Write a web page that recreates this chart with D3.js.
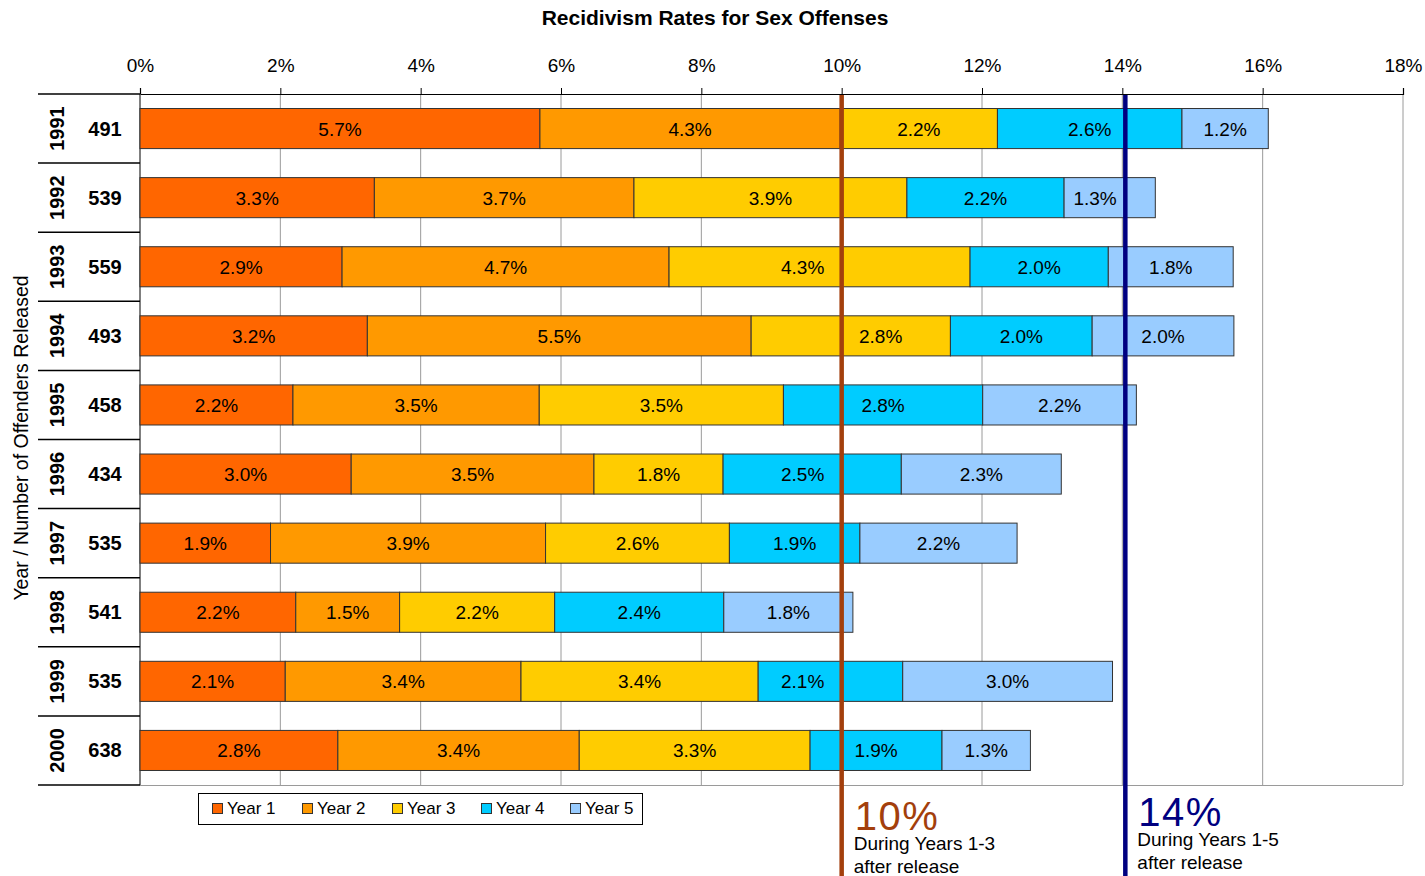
<!DOCTYPE html>
<html><head><meta charset="utf-8">
<script src="https://cdn.jsdelivr.net/npm/d3@7/dist/d3.min.js"></script>
<style>body{margin:0;background:#fff;font-family:"Liberation Sans",Arial,sans-serif;}</style>
</head><body><svg id="c" width="1425" height="876"></svg>
<script>
const years = ["1991","1992","1993","1994","1995","1996","1997","1998","1999","2000"];
const released = [491,539,559,493,458,434,535,541,535,638];
const seriesNames = ["Year 1","Year 2","Year 3","Year 4","Year 5"];
const year1 = [5.70,3.34,2.88,3.24,2.18,3.01,1.86,2.22,2.07,2.82];
const year2 = [4.28,3.70,4.66,5.47,3.51,3.46,3.92,1.48,3.36,3.44];
const year3 = [2.24,3.89,4.29,2.84,3.48,1.84,2.62,2.21,3.38,3.29];
const year4 = [2.63,2.24,1.97,2.02,2.84,2.54,1.86,2.41,2.06,1.88];
const year5 = [1.23,1.30,1.78,2.02,2.19,2.28,2.24,1.84,2.99,1.26];
const xTicks = [0,2,4,6,8,10,12,14,16,18];
const colors = ["#FF6600","#FF9900","#FFCC00","#00CCFF","#99CCFF"];
const refLines = [
  {value:10, color:"#A33F0C", big:"10%", lines:["During Years 1-3","after release"]},
  {value:14, color:"#000080", big:"14%", lines:["During Years 1-5","after release"]}
];

const FONT = "Liberation Sans, Arial, sans-serif";
const svg = d3.select("#c");
const L = 140, R = 1403, T = 94, B = 785;
const x = d3.scaleLinear().domain([0,18]).range([L,R]);
const y = d3.scaleBand().domain(years).range([T,B]).paddingInner(0.42).paddingOuter(0.21);
const yRow = d3.scaleBand().domain(years).range([T,B]);
const series = [year1,year2,year3,year4,year5];

const rows = years.map((yr,i)=>{const o={year:yr}; seriesNames.forEach((n,k)=>o[n]=series[k][i]); return o;});
const stack = d3.stack().keys(seriesNames)(rows);
const refX = refLines.map((r,i)=>x(r.value) + (i===1?3:0));

// title
svg.append("text").attr("x",715).attr("y",25).attr("text-anchor","middle")
  .attr("font-size",21).attr("font-weight","bold").text("Recidivism Rates for Sex Offenses");

// gridlines
svg.append("g").selectAll("line").data(xTicks.slice(1)).join("line")
  .attr("x1",d=>x(d)).attr("x2",d=>x(d)).attr("y1",T).attr("y2",B)
  .attr("stroke","#9a9a9a").attr("stroke-width",1);
svg.append("line").attr("x1",L).attr("x2",R).attr("y1",B+0.5).attr("y2",B+0.5).attr("stroke","#9a9a9a");

// top axis
const ax = svg.append("g").attr("transform",`translate(0,${T})`)
  .call(d3.axisTop(x).tickValues(xTicks).tickFormat(d=>d+"%").tickSize(6).tickPadding(16));
ax.select(".domain").attr("stroke","#000").attr("stroke-width",1.2);
ax.selectAll(".tick line").attr("stroke","#000");
ax.selectAll("text").attr("font-size",19).attr("font-family",FONT).attr("fill","#000");

svg.append("line").attr("x1",L).attr("x2",L).attr("y1",T).attr("y2",B).attr("stroke","#555").attr("stroke-width",1.5);

// bars
const g = svg.append("g");
const HALF_W = 21, GAP = 18, TRIGGER = 12, EDGE = 10;
function labelX(a,b){
  let c = (x(a)+x(b))/2;
  refX.forEach(rx=>{
    if (c - HALF_W - TRIGGER < rx && c + HALF_W + TRIGGER > rx) {
      if (c < rx) c = Math.max(rx - GAP - HALF_W, x(a) + HALF_W + EDGE);
      else c = Math.min(rx + GAP + HALF_W, x(b) - HALF_W - EDGE);
    }
  });
  return c;
}
stack.forEach((s,si)=>{
  const grp = g.append("g");
  grp.selectAll("rect").data(s).join("rect")
    .attr("x",d=>x(d[0])).attr("width",d=>x(d[1])-x(d[0]))
    .attr("y",d=>y(d.data.year)).attr("height",y.bandwidth())
    .attr("fill",colors[si]).attr("stroke","#333").attr("stroke-width",1);
  grp.selectAll("text").data(s).join("text")
    .attr("x",d=>labelX(d[0],d[1])).attr("y",d=>y(d.data.year)+y.bandwidth()/2+7)
    .attr("text-anchor","middle").attr("font-size",19).attr("fill","#000")
    .text(d=>d.data[seriesNames[si]].toFixed(1)+"%");
});

// row separators
const seps = years.map(yr=>yRow(yr)).concat([B]);
svg.append("g").selectAll("line").data(seps).join("line")
  .attr("x1",38).attr("x2",L).attr("y1",d=>d).attr("y2",d=>d)
  .attr("stroke","#000").attr("stroke-width",1.5);

years.forEach((yr,i)=>{
  const cy = yRow(yr)+yRow.bandwidth()/2;
  svg.append("text").attr("transform",`translate(64,${cy}) rotate(-90)`)
    .attr("text-anchor","middle").attr("font-size",20).attr("font-weight","bold").text(yr);
  svg.append("text").attr("x",105).attr("y",cy+7).attr("text-anchor","middle")
    .attr("font-size",20).attr("font-weight","bold").text(released[i]);
});

svg.append("text").attr("transform",`translate(28,438) rotate(-90)`)
  .attr("text-anchor","middle").attr("font-size",19.5).text("Year / Number of Offenders Released");

// reference lines
refLines.forEach((r,i)=>{
  const xx = refX[i];
  svg.append("line").attr("x1",xx).attr("x2",xx).attr("y1",T+1).attr("y2",876)
    .attr("stroke",r.color).attr("stroke-width",4.5);
  const by = i===0 ? 830 : 826;
  svg.append("text").attr("x",xx+13).attr("y",by).attr("font-size",40).attr("fill",r.color)
    .attr("font-family",FONT).attr("letter-spacing",1.5).text(r.big);
  r.lines.forEach((t,j)=>{
    svg.append("text").attr("x",xx+12).attr("y",by+20+j*23).attr("font-size",19).attr("fill","#000").text(t);
  });
});

// legend
const lg = svg.append("g");
lg.append("rect").attr("x",198.5).attr("y",793.5).attr("width",444).attr("height",31)
  .attr("fill","#fff").attr("stroke","#000").attr("stroke-width",1);
const lx = [212,302,392,481,570];
seriesNames.forEach((n,i)=>{
  lg.append("rect").attr("x",lx[i]+0.5).attr("y",803.5).attr("width",10).attr("height",10)
    .attr("fill",colors[i]).attr("stroke","#333");
  lg.append("text").attr("x",lx[i]+15).attr("y",814).attr("font-size",17).text(n);
});
</script></body></html>
